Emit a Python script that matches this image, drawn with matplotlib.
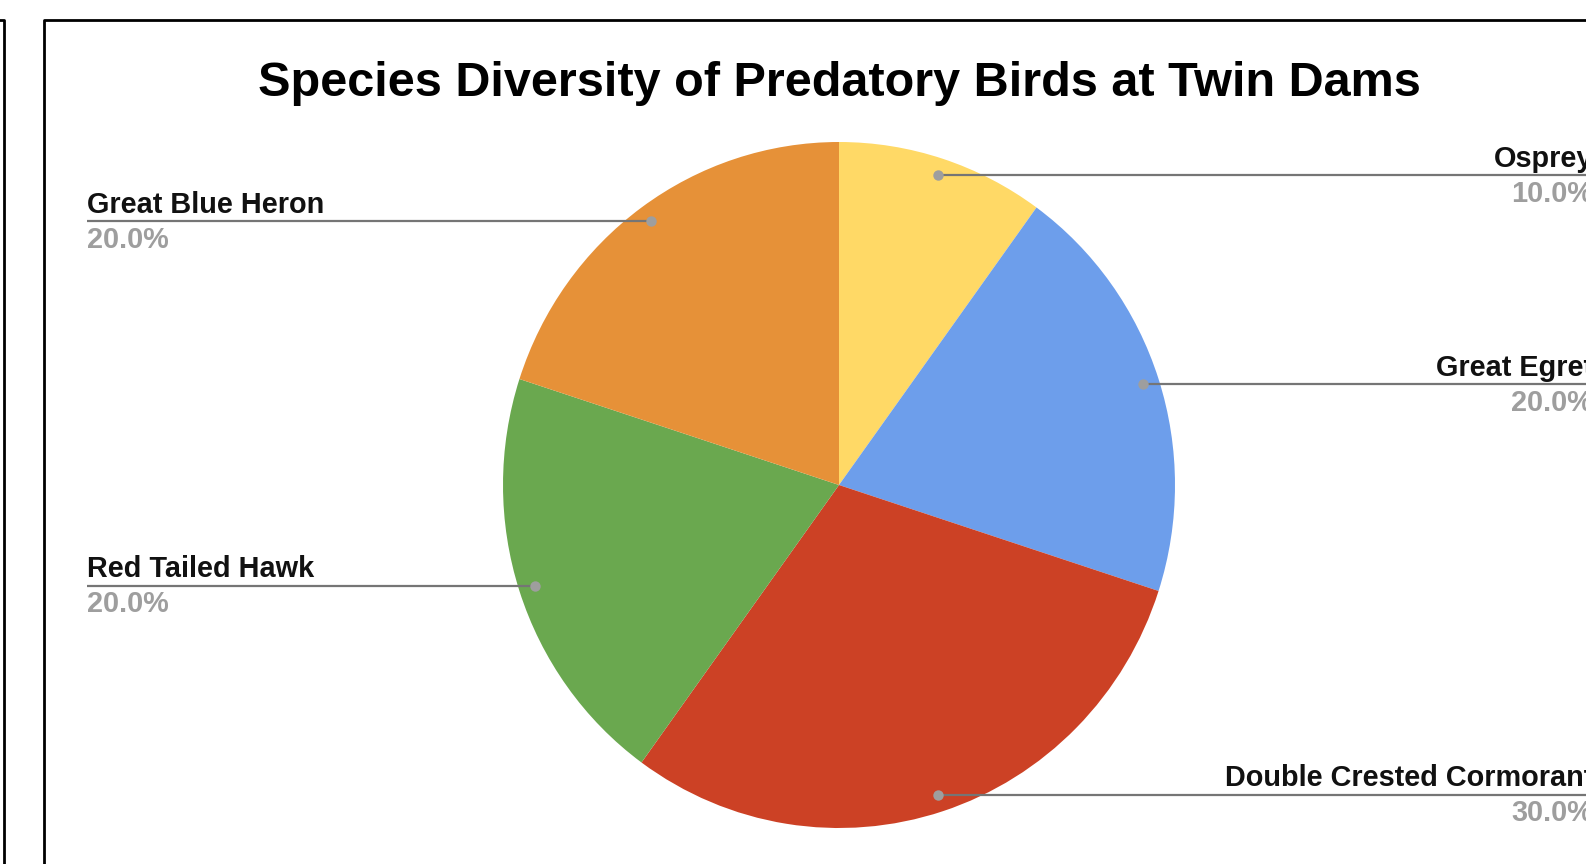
import numpy as np
import matplotlib
matplotlib.use("Agg")
import matplotlib.pyplot as plt

# ---- data ----
title = "Species Diversity of Predatory Birds at Twin Dams"
species = ["Osprey", "Great Egret", "Double Crested Cormorant", "Red Tailed Hawk", "Great Blue Heron"]
shares = [10, 20, 30, 20, 20]
colors = ["#FFD966", "#6D9EEB", "#CC4125", "#6AA84F", "#E69138"]

W, H = 1586, 864
fig = plt.figure(figsize=(W / 100, H / 100), dpi=100)
fig.patch.set_facecolor("white")
plt.rcParams["font.family"] = ["Liberation Sans", "DejaVu Sans"]

# pie axes
cx, cy, rx, ry = 839, 485, 336, 343
ax = fig.add_axes([(cx - rx) / W, (H - (cy + ry)) / H, 2 * rx / W, 2 * ry / H])
wedges, _ = ax.pie(shares, colors=colors, startangle=90, counterclock=False,
                   radius=1, wedgeprops=dict(linewidth=0))
ax.set_aspect("auto")
ax.set_xlim(-1, 1)
ax.set_ylim(-1, 1)
ax.axis("off")

# overlay in pixel coordinates (y downward), drawn above the pie
ov = fig.add_axes([0, 0, 1, 1])
ov.set_zorder(5)
ov.patch.set_alpha(0)
ov.set_xlim(0, W)
ov.set_ylim(H, 0)
ov.axis("off")

# frames (screenshot borders)
ov.plot([44, 44, W + 5], [H + 5, 20, 20], color="black", lw=2.0, solid_capstyle="butt")
ov.plot([-5, 3.5, 3.5], [19.5, 19.5, H + 5], color="black", lw=2.0, solid_capstyle="butt")

ov.text(cx, 96, title, ha="center", va="baseline", fontsize=35, fontweight="bold", color="black")

total = sum(shares)
cum = 0
fig.canvas.draw()
to_ov = ov.transData.inverted()
for name, val in zip(species, shares):
    mid = (cum + val / 2) / total * 2 * np.pi
    cum += val
    dx, dy = 0.95 * np.sin(mid), 0.95 * np.cos(mid)
    px, py = to_ov.transform(ax.transData.transform((dx, dy)))
    pct = f"{val / total * 100:.1f}%"
    if dx >= 0:
        xend = W + 10
        xt, ha = 1593, "right"
    else:
        xend = 87
        xt, ha = 87, "left"
    ov.plot([px, xend], [py, py], color="#757575", lw=1.6, zorder=3, solid_capstyle="butt")
    ov.plot([px], [py], marker="o", ms=7.5, color="#9E9E9E", mec="none", zorder=4)
    ov.text(xt, py - 8.5, name, ha=ha, va="baseline", fontsize=20.8, fontweight="bold", color="#111111")
    ov.text(xt, py + 26.5, pct, ha=ha, va="baseline", fontsize=20.8, fontweight="bold", color="#9E9E9E")

fig.savefig("out.png", dpi=100, facecolor="white")
